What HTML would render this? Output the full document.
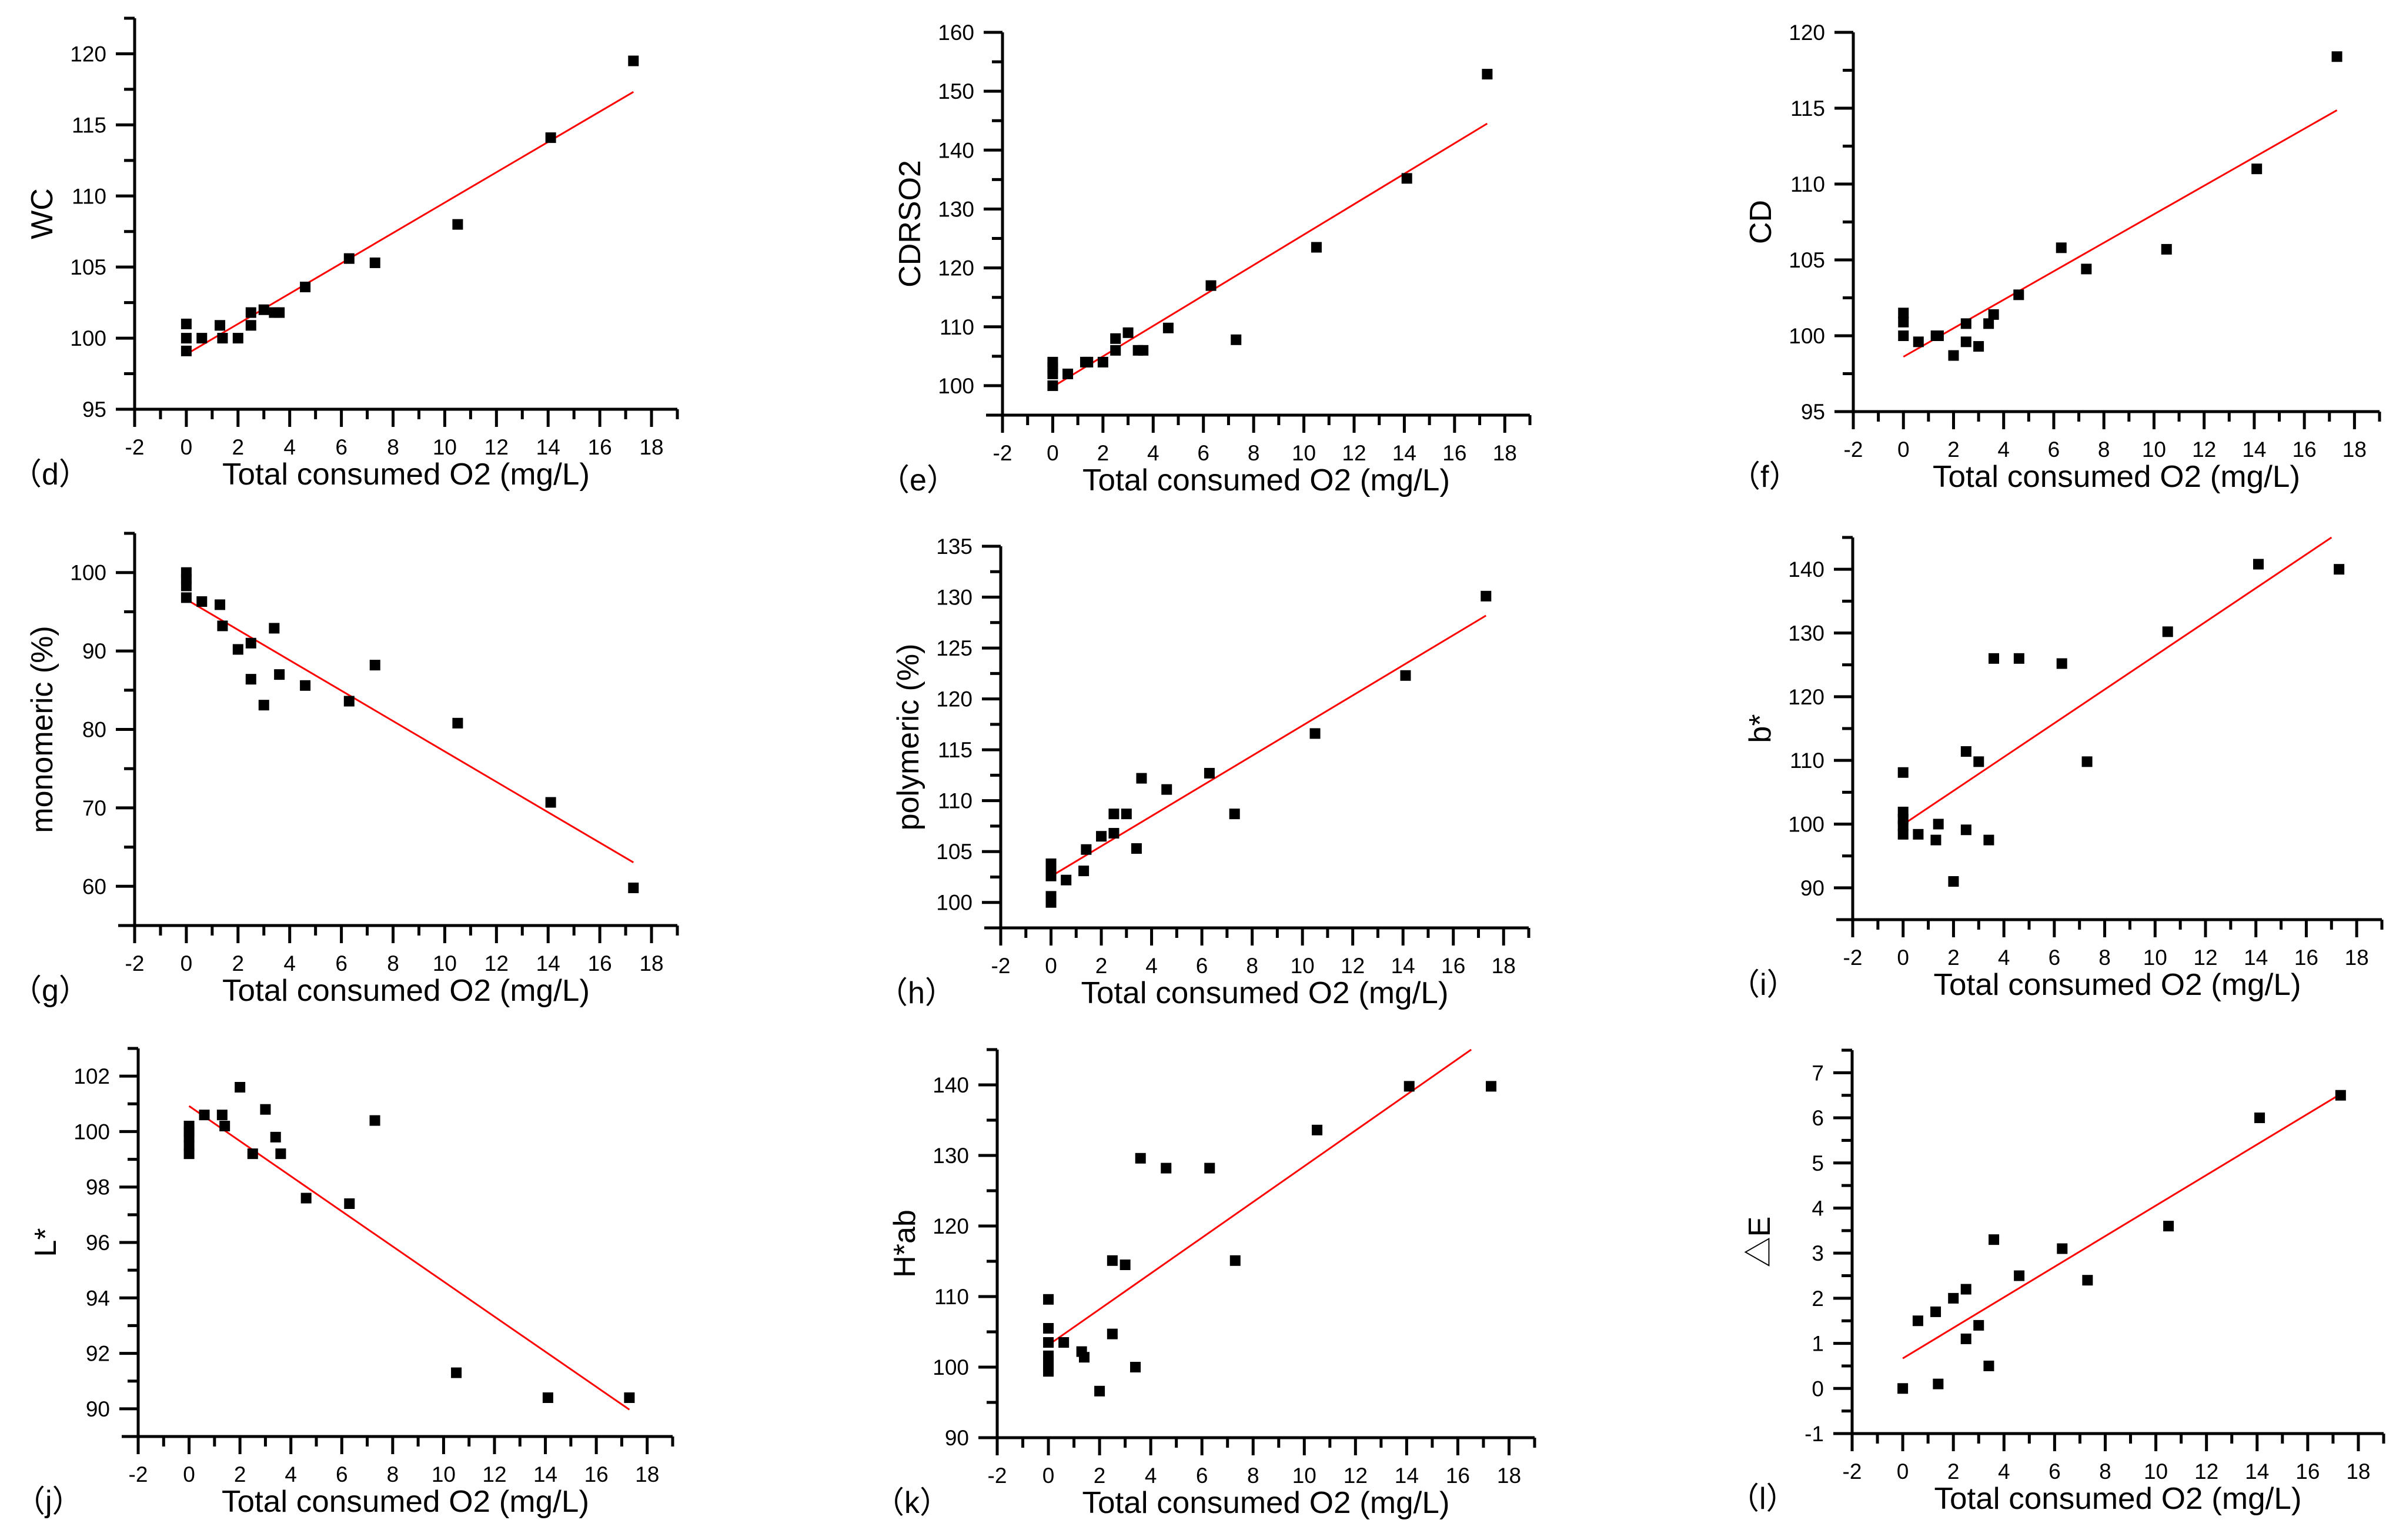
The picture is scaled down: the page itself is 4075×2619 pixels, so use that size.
<!DOCTYPE html>
<html><head><meta charset="utf-8"><style>
html,body{margin:0;padding:0;background:#fff}
svg{display:block}
text{font-family:"Liberation Sans","Noto Sans CJK SC",sans-serif;fill:#000}
</style></head><body>
<svg id="fig" width="4075" height="2619" viewBox="0 0 4075 2619" xmlns="http://www.w3.org/2000/svg">
<rect width="4075" height="2619" fill="#fff"/>
</svg>
<script>
const xTickLabels = [-2,0,2,4,6,8,10,12,14,16,18];
const xTitle = "Total consumed O2 (mg/L)";
const panelLetters = ["d","e","f","g","h","i","j","k","l"];
const yTitles = ["WC","CDRSO2","CD","monomeric (%)","polymeric (%)","b*","L*","H*ab","\u25B3E"];
const yMins = [95,95,95,55,97.5,85,89,90,-1];
const yMaxs = [122.5,160,120,105,135,145,103,145,7.5];
const yMajorSteps = [5,10,5,10,5,10,2,10,1];
const yTickStarts = [95,100,95,60,100,90,90,90,-1];
const yTickEnds = [120,160,120,100,135,140,102,140,7];

const dX = [];
const dY = [];
// panel d WC
const xsD = [0,0,0,0.6,1.3,1.4,2,2.5,2.5,3,3.4,3.6,4.6,6.3,7.3,10.5,14.1,17.3];
const ysD = [101,100,99.1,100,100.9,100,100,101.8,100.9,102,101.8,101.8,103.6,105.6,105.3,108,114.1,119.5];
// panel e CDRSO2
const xsE = [0,0,0,0,0.6,1.3,1.4,2,2.5,2.5,3,3.4,3.6,4.6,6.3,7.3,10.5,14.1,17.3];
const ysE = [104,103,102,100,102,104,104,104,108,106,109,106,106,109.8,117,107.8,123.5,135.2,152.9];
// panel f CD
const xsF = [0,0,0,0.6,1.3,1.4,2,2.5,2.5,3,3.4,3.6,4.6,6.3,7.3,10.5,14.1,17.3];
const ysF = [101.5,100.9,100,99.6,100,100,98.7,100.8,99.6,99.3,100.8,101.4,102.7,105.8,104.4,105.7,111,118.4];
// panel g monomeric
const xsG = [0,0,0,0,0.6,1.3,1.4,2,2.5,2.5,3,3.4,3.6,4.6,6.3,7.3,10.5,14.1,17.3];
const ysG = [100,99.2,98.3,96.8,96.3,95.9,93.2,90.2,91,86.4,83.1,92.9,87,85.6,83.6,88.2,80.8,70.7,59.8];
// panel h polymeric
const xsH = [0,0,0,0,0,0.6,1.3,1.4,2,2.5,2.5,3,3.4,3.6,4.6,6.3,7.3,10.5,14.1,17.3];
const ysH = [103.8,103.2,102.6,100.6,100,102.2,103.1,105.2,106.5,106.8,108.7,108.7,105.3,112.2,111.1,112.7,108.7,116.6,122.3,130.1];
// panel i b*
const xsI = [0,0,0,0,0,0.6,1.3,1.4,2,2.5,2.5,3,3.4,3.6,4.6,6.3,7.3,10.5,14.1,17.3];
const ysI = [108.1,101.9,100.8,99.8,98.4,98.4,97.5,100,91,99.1,111.4,109.8,97.5,126,126,125.2,109.8,130.2,140.8,140];
// panel j L*
const xsJ = [0,0,0,0,0,0.6,1.3,1.4,2,2.5,3,3.4,3.6,4.6,6.3,7.3,10.5,14.1,17.3];
const ysJ = [100.2,100,99.8,99.5,99.2,100.6,100.6,100.2,101.6,99.2,100.8,99.8,99.2,97.6,97.4,100.4,91.3,90.4,90.4];
// panel k H*ab
const xsK = [0,0,0,0,0,0,0,0.6,1.3,1.4,2,2.5,2.5,3,3.4,3.6,4.6,6.3,7.3,10.5,14.1,17.3];
const ysK = [109.6,105.5,103.5,101.6,100.8,100.1,99.4,103.5,102.2,101.4,96.6,104.7,115.1,114.5,100,129.6,128.2,128.2,115.1,133.6,139.8,139.8];
// panel l delta E
const xsL = [0,0.6,1.3,1.4,2,2.5,2.5,3,3.4,3.6,4.6,6.3,7.3,10.5,14.1,17.3];
const ysL = [0,1.5,1.7,0.1,2,2.2,1.1,1.4,0.5,3.3,2.5,3.1,2.4,3.6,6,6.5];
dX.push(xsD,xsE,xsF,xsG,xsH,xsI,xsJ,xsK,xsL);
dY.push(ysD,ysE,ysF,ysG,ysH,ysI,ysJ,ysK,ysL);

// layout (pixel geometry)
const L = [
 {left:229,xr:1152,top:31,bottom:696},
 {left:1705,xr:2602,top:55,bottom:706},
 {left:3152,xr:4047,top:55,bottom:700},
 {left:229,xr:1152,top:907,bottom:1574},
 {left:1702,xr:2600,top:929,bottom:1578},
 {left:3151,xr:4051,top:914,bottom:1564},
 {left:235,xr:1144,top:1783,bottom:2443},
 {left:1696,xr:2610,top:1785,bottom:2445},
 {left:3150,xr:4054,top:1786,bottom:2438}
];
const NS="http://www.w3.org/2000/svg";
const svg=document.getElementById('fig');
function mk(tag,attrs,parent){const e=document.createElementNS(NS,tag);for(const k in attrs)e.setAttribute(k,attrs[k]);(parent||svg).appendChild(e);return e;}

for(let p=0;p<9;p++){
  const g=L[p];
  const grp=mk('g',{});
  
  
  const xs=v=>g.left+(v+2)/21*(g.xr-g.left);
  const ys=v=>g.bottom-(v-yMins[p])/(yMaxs[p]-yMins[p])*(g.bottom-g.top);
  // axes
  const ya=mk('line',{x1:g.left,y1:g.top,x2:g.left,y2:g.bottom+2,stroke:'#000','stroke-width':5},grp);
  
  
  const xa=mk('line',{x1:g.left-28,y1:g.bottom,x2:g.xr,y2:g.bottom,stroke:'#000','stroke-width':5},grp);
  
  
  // x ticks
  for(let v=-2;v<=19;v++){
    const major=(v%2===0);
    const X=xs(v);
    mk('line',{x1:X,y1:g.bottom,x2:X,y2:g.bottom+(major?30:17),stroke:'#000','stroke-width':5},grp);
  }
  xTickLabels.forEach(v=>{
    const t=mk('text',{x:xs(v),y:g.bottom+77,'font-size':37,'text-anchor':'middle'},grp);
    t.textContent=String(v);
    
    
  });
  // y ticks
  const st=yMajorSteps[p];
  for(let v=yTickStarts[p]-st;v<=yMaxs[p]+1e-9;v+=st/2){
    if(v<yMins[p]-1e-9) continue;
    const k=Math.round((v-yTickStarts[p])/(st/2));
    const major=(k%2===0);
    const Y=ys(v);
    mk('line',{x1:g.left,y1:Y,x2:g.left-(major?32:18),y2:Y,stroke:'#000','stroke-width':5},grp);
  }
  for(let v=yTickStarts[p];v<=yTickEnds[p]+1e-9;v+=st){
    const t=mk('text',{x:g.left-48,y:ys(v)+13,'font-size':37,'text-anchor':'end'},grp);
    t.textContent=String(Math.round(v*10)/10);
    
    
  }
  // titles
  const tt=mk('text',{x:xs(8.5),y:g.bottom+128,'font-size':52,'text-anchor':'middle',textLength:625,lengthAdjust:'spacingAndGlyphs'},grp);
  tt.textContent=xTitle;
  
  
  const cy=(g.top+g.bottom)/2;
  const yt=mk('text',{x:g.left-140,y:cy,'font-size':52,'text-anchor':'middle',transform:`rotate(-90 ${g.left-140} ${cy})`},grp);
  yt.textContent=yTitles[p];
  
  
  const pl=mk('text',{x:g.left-210,y:g.bottom+128,'font-size':52},grp);
  pl.textContent='（'+panelLetters[p]+'）';
  
  
  // regression
  const X=dX[p],Yv=dY[p],n=X.length;
  let sx=0,sy=0,sxx=0,sxy=0;
  for(let i=0;i<n;i++){sx+=X[i];sy+=Yv[i];sxx+=X[i]*X[i];sxy+=X[i]*Yv[i];}
  const b=(n*sxy-sx*sy)/(n*sxx-sx*sx), a=(sy-b*sx)/n;
  let x0=Math.min(...X), x1=Math.max(...X);
  let y1=a+b*x1;
  if(y1>yMaxs[p]){x1=(yMaxs[p]-a)/b;y1=yMaxs[p];}
  if(y1<yMins[p]){x1=(yMins[p]-a)/b;y1=yMins[p];}
  const fl=mk('line',{x1:xs(x0),y1:ys(a+b*x0),x2:xs(x1),y2:ys(y1),stroke:'#ff0000','stroke-width':3},grp);
  
  
  // points
  for(let i=0;i<n;i++){
    const r=mk('rect',{x:xs(X[i])-9,y:ys(Yv[i])-9,width:18,height:18,fill:'#000'},grp);
    
    
  }
}
</script>
</body></html>
